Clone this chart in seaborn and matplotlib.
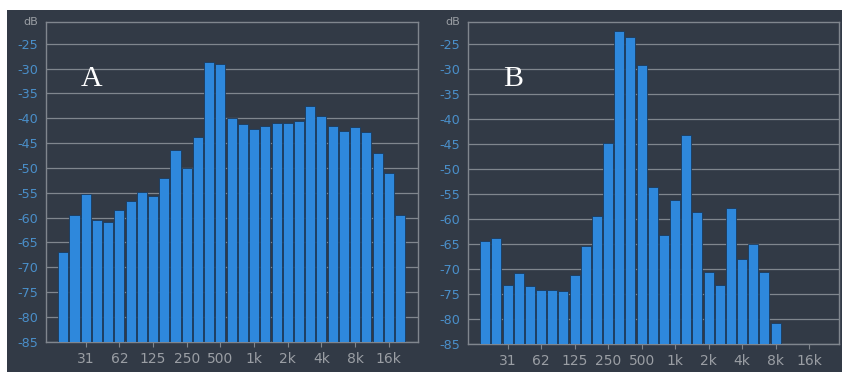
import numpy as np
import pandas as pd
import matplotlib
matplotlib.use("Agg")
import matplotlib.pyplot as plt
import seaborn as sns
from matplotlib.patches import Rectangle

# 1/3-octave band centre frequencies
bands = ["20", "25", "31.5", "40", "50", "63", "80", "100", "125", "160",
         "200", "250", "315", "400", "500", "630", "800", "1k", "1.25k", "1.6k",
         "2k", "2.5k", "3.15k", "4k", "5k", "6.3k", "8k", "10k", "12.5k", "16k", "20k"]

# band levels in dB for spectrum A
level_a = [-67.0, -59.5, -55.3, -60.5, -60.8, -58.5, -56.6, -54.8, -55.7, -52.1,
           -46.3, -50.1, -43.8, -28.6, -29.0, -40.0, -41.2, -42.1, -41.5, -40.9,
           -40.9, -40.6, -37.6, -39.6, -41.5, -42.5, -41.8, -42.8, -47.0, -51.1, -59.5]

# band levels in dB for spectrum B (top bands fall below the display floor)
level_b = [-64.5, -63.9, -73.2, -70.9, -73.5, -74.2, -74.2, -74.5, -71.2, -65.5,
           -59.4, -44.9, -22.4, -23.7, -29.3, -53.7, -63.3, -56.2, -43.3, -58.7,
           -70.6, -73.2, -57.8, -68.1, -65.0, -70.6, -80.9, np.nan, np.nan, np.nan, np.nan]

# octave tick marks along the frequency axis
octave_bands = ["31.5", "63", "125", "250", "500", "1k", "2k", "4k", "8k", "16k"]
octave_labels = ["31", "62", "125", "250", "500", "1k", "2k", "4k", "8k", "16k"]

db_ticks = list(range(-25, -90, -5))
floor_db = -85.0
top_db = -20.6

panel_names = ["A", "B"]

BG = "#323a46"
BAR = "#2e88dc"
EDGE = "#1b3a5c"
GRID = "#80868e"
YLAB = "#4a8fca"
XLAB = "#9a9ea4"

sns.set_theme(style="dark")
plt.rcParams["font.family"] = ["DejaVu Sans"]

W, H = 842, 374
fig = plt.figure(figsize=(W / 100, H / 100), dpi=100, facecolor="white")
fig.patches.append(Rectangle((7 / W, 2 / H), 835 / W, 362 / H,
                             transform=fig.transFigure, facecolor=BG,
                             edgecolor="none", zorder=-1))

# axes boxes in pixels: left, top, right, bottom
boxes = [(45.7, 22.0, 418.3, 341.7), (467.7, 22.0, 838.5, 343.7)]

for name, levels, (x0, y0, x1, y1) in zip(panel_names, [level_a, level_b], boxes):
    ax = fig.add_axes([x0 / W, (H - y1) / H, (x1 - x0) / W, (y1 - y0) / H])
    ax.set_facecolor(BG)

    df = pd.DataFrame({"band": bands, "rise": np.array(levels) - floor_db})
    sns.barplot(data=df, x="band", y="rise", order=bands, color=BAR,
                saturation=1, width=0.9, edgecolor=EDGE, linewidth=0.6,
                errorbar=None, bottom=floor_db, ax=ax, zorder=3)

    ax.set_xlim(-1.57, len(bands) - 1 + 1.63)
    ax.set_ylim(floor_db, top_db)
    ax.set_xlabel("")
    ax.set_ylabel("")

    ax.set_yticks(db_ticks)
    ax.set_yticklabels([str(t) for t in db_ticks])
    ax.set_xticks([bands.index(b) for b in octave_bands])
    ax.set_xticklabels(octave_labels)

    ax.set_axisbelow(True)
    ax.yaxis.grid(True, color=GRID, linewidth=0.9)
    ax.xaxis.grid(False)

    ax.tick_params(axis="y", length=0, labelcolor=YLAB, labelsize=9.2, pad=5.3)
    ax.tick_params(axis="x", length=3.5, width=0.8, color=GRID, labelcolor=XLAB,
                   labelsize=10, pad=4, bottom=True)

    for sp in ax.spines.values():
        sp.set_visible(True)
        sp.set_color(GRID)
        sp.set_linewidth(1.0)

    ax.annotate("dB", xy=(0, 1), xycoords="axes fraction", xytext=(-5.3, 0),
                textcoords="offset points", ha="right", va="center",
                color=XLAB, fontsize=8)

    ax.text(0.095, 0.80, name, transform=ax.transAxes, family="Liberation Serif",
            fontsize=21.5, color="white", va="baseline", ha="left", zorder=5)

fig.savefig("out.png", dpi=100, facecolor="white")
